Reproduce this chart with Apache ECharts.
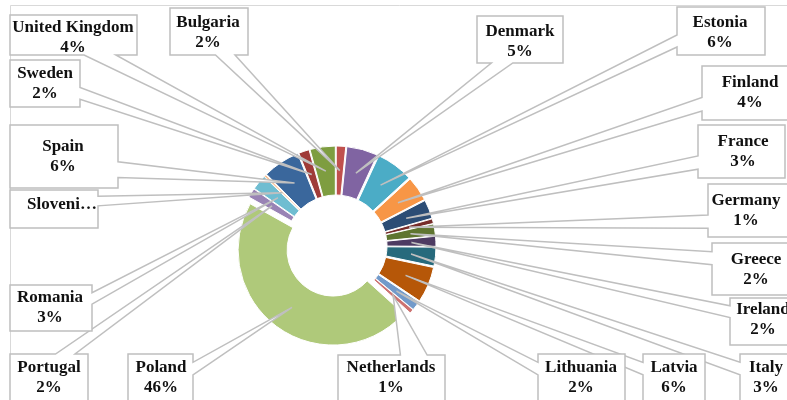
<!DOCTYPE html>
<html><head><meta charset="utf-8">
<script src="https://cdn.jsdelivr.net/npm/echarts@6/dist/echarts.min.js"></script>
<style>html,body{margin:0;padding:0;background:#fff}#c{width:787px;height:400px}</style>
</head><body><div id="c"></div>
<script>
// ---- data ----
const categories = ['Bulgaria','Denmark','Estonia','Finland','France','Germany','Greece','Ireland','Italy','Latvia','Lithuania','Netherlands','Poland','Portugal','Romania','Slovenia','Spain','Sweden','United Kingdom'];
const shares = [1.6,5.3,6.3,4.2,3.2,0.8,2.0,1.7,3.2,6.1,1.6,0.7,46.4,1.6,2.6,0.3,6.3,1.8,4.3];
const sliceColors = ['#C0504D','#8064A2','#4BACC6','#F79646','#2C4D75','#772C2A','#5F7530','#4D3B62','#276A7C','#B65708','#729ACA','#CD7371','#AFC97A','#9983B5','#6FBDD1','#F9AB6B','#3A679C','#9F3B38','#7E9D40'];
// label text shown truncated in the source
const labelOverride = {'Slovenia': 'Sloveni\u2026'};

// ---- callout box layout: box [x,y,w,h], text centre [x,y] ----
const calloutLayout = {
  'United Kingdom': {box:[10,15,127,40], text:[73,37.5]},
  'Bulgaria':       {box:[170,8,78,47],  text:[208,33]},
  'Sweden':         {box:[10,60,70,47],  text:[45,84]},
  'Spain':          {box:[10,125,108,63],text:[63,157]},
  'Slovenia':       {box:[10,190,88,38], text:[62,205]},
  'Romania':        {box:[10,285,82,46], text:[50,308]},
  'Portugal':       {box:[10,354,78,50], text:[49,378]},
  'Poland':         {box:[128,354,65,50],text:[161,378]},
  'Netherlands':    {box:[338,355,107,50],text:[391,378]},
  'Lithuania':      {box:[538,354,87,50],text:[581,378]},
  'Latvia':         {box:[643,354,62,50],text:[674,378]},
  'Italy':          {box:[740,354,60,50],text:[766,378]},
  'Ireland':        {box:[730,298,70,47],text:[763,320]},
  'Greece':         {box:[712,243,90,52],text:[756,270]},
  'Germany':        {box:[708,184,90,53],text:[746,211]},
  'France':         {box:[698,125,87,53],text:[743,152]},
  'Finland':        {box:[702,66,90,54], text:[750,93]},
  'Estonia':        {box:[677,7,88,48],  text:[720,33]},
  'Denmark':        {box:[477,16,86,47], text:[520,42]}
};

const chart = echarts.init(document.getElementById('c'), null, {renderer:'canvas'});
const OFFSET = 5;
chart.setOption({
  animation: false,
  backgroundColor: '#fff',
  series: [{
    type: 'pie',
    center: [336, 246],
    radius: [46, 95],
    startAngle: 90,
    clockwise: true,
    silent: true,
    selectedMode: 'multiple',
    selectedOffset: OFFSET,
    avoidLabelOverlap: false,
    label: {show: false},
    labelLine: {show: false},
    emphasis: {disabled: true},
    itemStyle: {borderColor: '#fff', borderWidth: 1},
    data: categories.map((n, i) => ({
      name: n, value: shares[i], selected: true,
      itemStyle: {color: sliceColors[i]},
      select: {itemStyle: {color: sliceColors[i], borderColor: '#fff', borderWidth: 1}}
    }))
  }]
});

function calloutPoints(box, tip) {
  const [x, y, w, h] = box;
  const cx = x + w / 2, cy = y + h / 2;
  const dx = tip[0] - cx, dy = tip[1] - cy;
  if (Math.abs(dx) * h > Math.abs(dy) * w) {
    const c1 = y + h * (dy < 0 ? 2 : 7) / 12, c2 = y + h * (dy < 0 ? 5 : 10) / 12;
    if (dx < 0) return [[x,y],[x+w,y],[x+w,y+h],[x,y+h],[x,c2],tip,[x,c1]];
    return [[x,y],[x+w,y],[x+w,c1],tip,[x+w,c2],[x+w,y+h],[x,y+h]];
  } else {
    const b1 = x + w * (dx < 0 ? 2 : 7) / 12, b2 = x + w * (dx < 0 ? 5 : 10) / 12;
    if (dy > 0) return [[x,y],[x+w,y],[x+w,y+h],[b2,y+h],tip,[b1,y+h],[x,y+h]];
    return [[x,y],[b1,y],tip,[b2,y],[x+w,y],[x+w,y+h],[x,y+h]];
  }
}

const seriesData = chart.getModel().getSeriesByIndex(0).getData();
const graphics = [{
  type: 'rect', z: 0, silent: true,
  shape: {x: 10.5, y: 5.5, width: 900, height: 600},
  style: {fill: 'none', stroke: '#D9D9D9', lineWidth: 1}
}];
categories.forEach((name, i) => {
  const lay = seriesData.getItemLayout(i);
  const mid = (lay.startAngle + lay.endAngle) / 2;
  const rr = (lay.r + lay.r0) / 2 + OFFSET;
  const tip = [lay.cx + Math.cos(mid) * rr, lay.cy + Math.sin(mid) * rr];
  const L = calloutLayout[name];
  graphics.push({
    type: 'polygon', z: 10, silent: true,
    shape: {points: calloutPoints(L.box, tip)},
    style: {fill: '#fff', stroke: '#BFBFBF', lineWidth: 1.5}
  });
  const txt = labelOverride[name] || (name + '\n' + Math.round(shares[i]) + '%');
  graphics.push({
    type: 'text', z: 20, silent: true,
    x: L.text[0], y: L.text[1],
    style: {
      text: txt, fill: '#111',
      font: 'bold 17px "Liberation Serif", "Times New Roman", serif',
      lineHeight: 20, align: 'center', verticalAlign: 'middle',
      textAlign: 'center', textVerticalAlign: 'middle'
    }
  });
});
chart.setOption({graphic: graphics});
</script>
</body></html>
